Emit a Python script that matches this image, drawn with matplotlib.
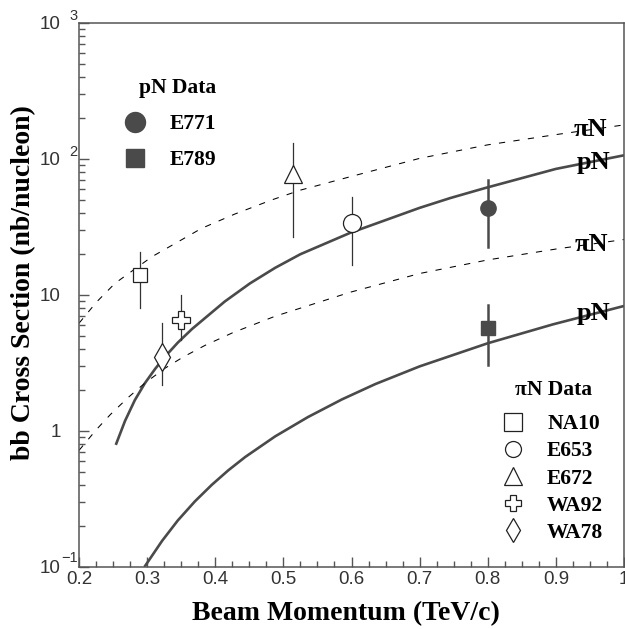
import matplotlib
matplotlib.use('Agg')
import matplotlib.pyplot as plt
from matplotlib.lines import Line2D
from matplotlib.ticker import MultipleLocator, LogLocator, FixedLocator, FixedFormatter, NullFormatter

# theory curves
pn_hi_x = [0.254, 0.2675, 0.282, 0.297, 0.312, 0.326, 0.345, 0.366, 0.414, 0.451, 0.488, 0.525, 0.598, 0.70, 0.745, 0.796, 0.9, 1.0]
pn_hi_y = [0.79, 1.184, 1.687, 2.256, 2.872, 3.508, 4.462, 5.627, 8.954, 12.17, 15.84, 19.94, 28.62, 43.7, 51.6, 61.1, 84.5, 106.4]

pn_lo_x = [0.296, 0.322, 0.345, 0.370, 0.395, 0.419, 0.444, 0.488, 0.536, 0.586, 0.635, 0.70, 0.80, 0.896, 1.0]
pn_lo_y = [0.1, 0.1557, 0.2197, 0.3032, 0.4021, 0.5129, 0.644, 0.913, 1.265, 1.707, 2.213, 2.985, 4.415, 6.085, 8.3]

pin_hi_x = [0.2, 0.226, 0.253, 0.307, 0.380, 0.429, 0.483, 0.525, 0.598, 0.70, 0.80, 0.9, 1.0]
pin_hi_y = [6.2, 8.9, 12.2, 19.1, 30.9, 39.4, 50, 59, 74, 101, 127, 151, 178]

pin_lo_x = [0.2, 0.226, 0.246, 0.272, 0.297, 0.326, 0.353, 0.385, 0.425, 0.488, 0.598, 0.70, 0.80, 0.9, 1.0]
pin_lo_y = [0.72, 1.03, 1.32, 1.76, 2.256, 2.888, 3.50, 4.26, 5.26, 6.98, 10.47, 14.38, 18.1, 21.76, 25.57]

# measurements: x, y, low, high
pn_names = ['E771', 'E789']
pn_x = [0.8, 0.8]
pn_y = [43.6, 5.7]
pn_lo = [22.5, 3.06]
pn_hi = [70, 8.4]
pn_markers = ['o', 's']

pin_names = ['NA10', 'E653', 'E672', 'WA92', 'WA78']
pin_x = [0.29, 0.6, 0.514, 0.35, 0.322]
pin_y = [14.0, 33.8, 77, 6.55, 3.5]
pin_lo = [8.0, 16.6, 26.7, 4.67, 2.18]
pin_hi = [20.7, 52.5, 131, 10.0, 6.2]
pin_markers = ['s', 'o', '^', 'P', 'd']
pin_ms = [10, 13, 13, 13, 14]

ytick_vals = [0.1, 1, 10, 100, 1000]
ytick_text = ['10', '1', '10', '10', '10']
ytick_exp = ['\u22121', '', '', '2', '3']

plt.rcParams['font.family'] = 'Liberation Sans'
serif = {'family': 'Liberation Serif', 'weight': 'bold'}
grey = '#4a4a4a'

fig = plt.figure(figsize=(6.25, 6.29), dpi=100)
ax = fig.add_axes([0.1264, 0.0986, 0.872, 0.8649])
ax.set_yscale('log')
ax.set_xlim(0.2, 1.0)
ax.set_ylim(0.1, 1000)

ax.plot(pn_hi_x, pn_hi_y, color=grey, lw=1.9, solid_capstyle='butt', solid_joinstyle='round')
ax.plot(pn_lo_x, pn_lo_y, color=grey, lw=1.9, solid_capstyle='butt', solid_joinstyle='round')
ax.plot(pin_hi_x, pin_hi_y, color='black', lw=0.75, dashes=(6, 8))
ax.plot(pin_lo_x, pin_lo_y, color='black', lw=0.75, dashes=(6, 8))

for i in range(len(pin_x)):
    ax.plot([pin_x[i], pin_x[i]], [pin_lo[i], pin_hi[i]], color='#333333', lw=0.9, zorder=3)
    ax.plot(pin_x[i], pin_y[i], marker=pin_markers[i], ms=pin_ms[i], mfc='white',
            mec='#222222', mew=0.9, ls='none', zorder=4)

pn_ms = [11, 9.6]
for i in range(len(pn_x)):
    ax.plot([pn_x[i], pn_x[i]], [pn_lo[i], pn_hi[i]], color=grey, lw=1.8, zorder=3)
    ax.plot(pn_x[i], pn_y[i], marker=pn_markers[i], ms=pn_ms[i], color=grey, ls='none', zorder=4)

# curve labels
ax.text(0.950, 165, '\u03c0N', fontdict=serif, fontsize=19, ha='center', va='center')
ax.text(0.955, 94, 'pN', fontdict=serif, fontsize=19, ha='center', va='center')
ax.text(0.952, 23.6, '\u03c0N', fontdict=serif, fontsize=19, ha='center', va='center')
ax.text(0.956, 7.3, 'pN', fontdict=serif, fontsize=19, ha='center', va='center')

# axes styling
for s in ax.spines.values():
    s.set_color('#555555')
    s.set_linewidth(1.1)
ax.xaxis.set_major_locator(MultipleLocator(0.1))
ax.xaxis.set_minor_locator(MultipleLocator(0.025))
ax.xaxis.set_major_formatter(plt.FuncFormatter(lambda v, p: '%g' % round(v, 2)))
ax.yaxis.set_major_locator(FixedLocator(ytick_vals))
ax.yaxis.set_major_formatter(FixedFormatter(ytick_text))
ax.yaxis.set_minor_locator(LogLocator(base=10, subs=range(2, 10)))
ax.yaxis.set_minor_formatter(NullFormatter())
ax.tick_params(which='both', direction='in', color='#555555', width=1.0,
               labelsize=13.5, labelcolor='#333333', top=False, right=False)
ax.tick_params(which='major', length=7.5)
ax.tick_params(which='minor', length=4)
ax.tick_params(axis='x', pad=3)
ax.tick_params(axis='y', pad=13)

for v, e in zip(ytick_vals, ytick_exp):
    if e:
        ax.annotate(e, xy=(0, v), xycoords=('axes fraction', 'data'), xytext=(-1, 3.5 if v < 1 else 2),
                    textcoords='offset points', ha='right', va='baseline',
                    fontsize=10.5, color='#333333', annotation_clip=False)

ax.set_xlabel('Beam Momentum (TeV/c)', fontdict=serif, fontsize=20, va='center')
ax.xaxis.set_label_coords(0.49, -0.086)
ax.set_ylabel('bb Cross Section (nb/nucleon)', fontdict=serif, fontsize=20, va='center')
ax.yaxis.set_label_coords(-0.101, 0.522)

# legends
leg_font = {'family': 'Liberation Serif', 'weight': 'bold', 'size': 15.5}
h1 = [Line2D([], [], marker='o', ms=14.4, color=grey, ls='none'),
      Line2D([], [], marker='s', ms=13, color=grey, ls='none')]
leg1 = ax.legend(h1, pn_names, title='pN Data', loc='upper left', bbox_to_anchor=(0.0826, 0.899),
                 frameon=False, prop=leg_font, title_fontproperties=leg_font, handlelength=1.0,
                 handletextpad=1.1, labelspacing=0.75, borderpad=0, borderaxespad=0,
                 alignment='right')
ax.add_artist(leg1)

leg_ms = [13, 11.5, 12.5, 11.5, 12]
h2 = [Line2D([], [], marker=m, ms=s, mfc='white', mec='#222222', mew=0.9, ls='none')
      for m, s in zip(pin_markers, leg_ms)]
ax.legend(h2, pin_names, loc='upper left', bbox_to_anchor=(0.776, 0.281),
          frameon=False, prop=leg_font, handlelength=1.0,
          handletextpad=1.1, labelspacing=0.33, borderpad=0, borderaxespad=0)
ax.text(0.87, 0.325, '\u03c0N Data', transform=ax.transAxes, fontdict=serif, fontsize=15.5,
        ha='center', va='center')

fig.savefig('out.png', dpi=100)
